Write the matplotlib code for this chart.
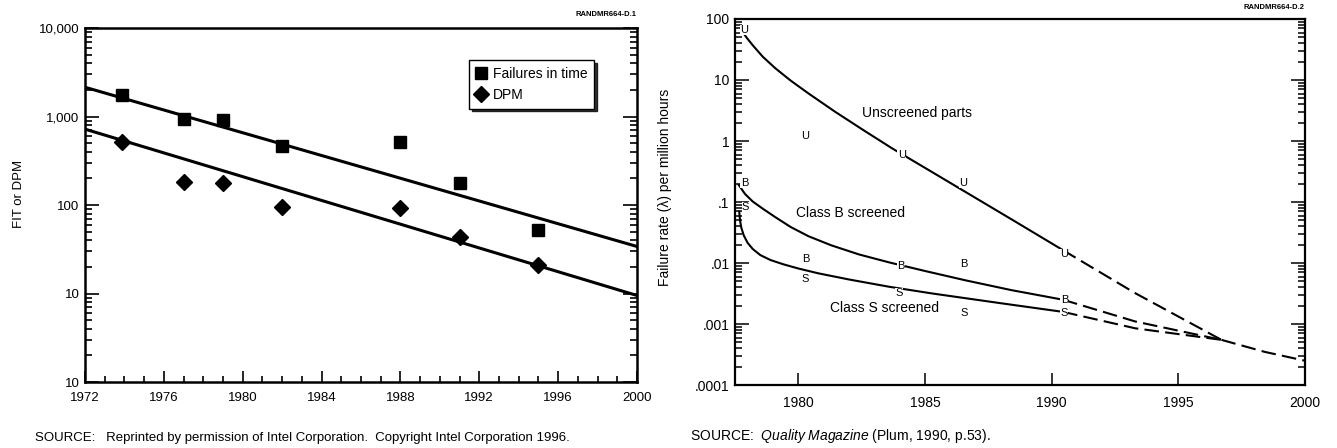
import matplotlib
matplotlib.use('Agg')
import matplotlib.pyplot as plt
from matplotlib.ticker import FixedLocator, MultipleLocator, LogLocator, NullFormatter

plt.rcParams['font.family'] = ['Liberation Sans', 'DejaVu Sans']
plt.rcParams['mathtext.fontset'] = 'custom'
plt.rcParams['mathtext.rm'] = 'Liberation Sans'
plt.rcParams['mathtext.it'] = 'Liberation Sans:italic'

# ---- left panel data (Intel) ----
fit_years = [1973.9, 1977.0, 1979.0, 1982.0, 1988.0, 1991.0, 1995.0]
fit_values = [1770, 940, 920, 470, 520, 177, 52]
dpm_years = [1973.9, 1977.0, 1979.0, 1982.0, 1988.0, 1991.0, 1995.0]
dpm_values = [520, 184, 177, 96, 93, 43, 21]
fit_trend_years = [1972, 2000]
fit_trend_values = [2140, 34]
dpm_trend_years = [1972, 2000]
dpm_trend_values = [720, 9.5]
left_yticks = [1, 10, 100, 1000, 10000]
left_ylabels = ['10', '10', '100', '1,000', '10,000']

# ---- right panel data (Quality Magazine) ----
unscr_years = [1977.8, 1977.95, 1978.2, 1978.6, 1979.1, 1979.7, 1980.4, 1981.45,
               1982.6, 1983.7, 1985.2, 1986.7, 1988.6, 1990.45]
unscr_values = [61.7, 50.1, 37.2, 24.0, 15.5, 9.77, 6.03, 3.02,
                1.48, 0.759, 0.324, 0.138, 0.0468, 0.0162]
unscr_dash_years = [1990.45, 1993.3, 1996.7]
unscr_dash_values = [0.0162, 0.0032, 0.00055]
classb_years = [1977.65, 1977.9, 1978.2, 1978.6, 1979.1, 1979.7, 1980.4, 1981.3,
                1982.4, 1983.6, 1985.0, 1986.6, 1988.4, 1990.45]
classb_values = [0.19, 0.135, 0.102, 0.0776, 0.0562, 0.0389, 0.0275, 0.0195,
                 0.0138, 0.0102, 0.0074, 0.0052, 0.0036, 0.0025]
classb_dash_years = [1990.45, 1993.3, 1996.7]
classb_dash_values = [0.0025, 0.0011, 0.00055]
classs_years = [1977.67, 1977.70, 1977.75, 1977.85, 1978.0, 1978.2, 1978.5, 1978.9,
                1979.4, 1980.0, 1980.8, 1982.0, 1983.6, 1985.3, 1988.0, 1990.45]
classs_values = [0.0692, 0.0501, 0.038, 0.0282, 0.0214, 0.0170, 0.0135, 0.0112,
                 0.00955, 0.00813, 0.00676, 0.00537, 0.00407, 0.00316, 0.00219, 0.00158]
classs_dash_years = [1990.45, 1993.3, 1996.7]
classs_dash_values = [0.00158, 0.00085, 0.00055]
tail_years = [1996.7, 1998.4, 2000.0]
tail_values = [0.00055, 0.00035, 0.00025]

u_years = [1977.87, 1980.28, 1984.08, 1986.52, 1990.48]
u_values = [66, 1.22, 0.59, 0.204, 0.0141]
b_years = [1977.87, 1980.28, 1984.05, 1986.55, 1990.5]
b_values = [0.207, 0.0115, 0.0089, 0.0096, 0.0025]
s_years = [1977.92, 1980.26, 1983.99, 1986.55, 1990.5]
s_values = [0.082, 0.0054, 0.0032, 0.00153, 0.0015]

right_yticks = [1e-4, 1e-3, 1e-2, 1e-1, 1, 10, 100]
right_ylabels = ['.0001', '.001', '.01', '.1', '1', '10', '100']
right_xticks = [1980, 1985, 1990, 1995, 2000]

fig = plt.figure(figsize=(13.37, 4.48), dpi=100)
ax1 = fig.add_axes([0.0636, 0.1473, 0.4128, 0.7902])
ax2 = fig.add_axes([0.5497, 0.1406, 0.4264, 0.8170])

# left panel
ax1.plot(fit_trend_years, fit_trend_values, color='black', lw=2.2)
ax1.plot(dpm_trend_years, dpm_trend_values, color='black', lw=2.2)
ax1.plot(fit_years, fit_values, 's', color='black', ms=8.5, label='Failures in time')
ax1.plot(dpm_years, dpm_values, 'D', color='black', ms=8.5, label='DPM')
ax1.set_yscale('log')
ax1.set_xlim(1972, 2000)
ax1.set_ylim(1, 10000)
ax1.yaxis.set_major_locator(FixedLocator(left_yticks))
ax1.set_yticklabels(left_ylabels)
ax1.yaxis.set_minor_locator(LogLocator(subs=range(2, 10)))
ax1.yaxis.set_minor_formatter(NullFormatter())
ax1.xaxis.set_major_locator(MultipleLocator(4))
ax1.xaxis.set_minor_locator(MultipleLocator(1))
ax1.tick_params(which='both', direction='in', right=True, top=False, width=1.2, labelsize=9.5)
ax1.tick_params(axis='y', which='major', length=10, pad=4)
ax1.tick_params(axis='y', which='minor', length=5)
ax1.tick_params(axis='x', which='major', length=8, pad=7)
ax1.tick_params(axis='x', which='minor', length=4)
for sp in ax1.spines.values():
    sp.set_linewidth(1.8)
ax1.set_ylabel('FIT or DPM', fontsize=9.5)
ax1.yaxis.set_label_coords(-0.108, 0.53)
leg = ax1.legend(loc='upper right', bbox_to_anchor=(0.935, 0.93), fontsize=10,
                 frameon=True, fancybox=False, edgecolor='black', handlelength=0.8,
                 handletextpad=0.4, borderpad=0.5, labelspacing=0.5,
                 shadow={'color': 'black', 'alpha': 0.8})
leg.get_frame().set_linewidth(1.0)

# right panel
solid = dict(color='black', lw=1.5)
dashed = dict(color='black', lw=1.5, linestyle=(0, (7, 3)))
ax2.plot(unscr_years, unscr_values, **solid)
ax2.plot(classb_years, classb_values, **solid)
ax2.plot(classs_years, classs_values, **solid)
ax2.plot(unscr_dash_years, unscr_dash_values, **dashed)
ax2.plot(classb_dash_years, classb_dash_values, **dashed)
ax2.plot(classs_dash_years, classs_dash_values, **dashed)
ax2.plot(tail_years, tail_values, **dashed)
for letter, xs, ys in (('U', u_years, u_values), ('B', b_years, b_values), ('S', s_years, s_values)):
    for x, y in zip(xs, ys):
        ax2.text(x, y, letter, fontsize=8, ha='center', va='center', zorder=5,
                 bbox=dict(fc='white', ec='none', pad=0.2))
ax2.text(1984.67, 2.85, 'Unscreened parts', fontsize=10, ha='center', va='center')
ax2.text(1982.05, 0.067, 'Class B screened', fontsize=10, ha='center', va='center')
ax2.text(1983.39, 0.00185, 'Class S screened', fontsize=10, ha='center', va='center')
ax2.set_yscale('log')
ax2.set_xlim(1977.5, 2000)
ax2.set_ylim(1e-4, 100)
ax2.yaxis.set_major_locator(FixedLocator(right_yticks))
ax2.set_yticklabels(right_ylabels)
ax2.yaxis.set_minor_locator(LogLocator(subs=range(2, 10)))
ax2.yaxis.set_minor_formatter(NullFormatter())
ax2.xaxis.set_major_locator(FixedLocator(right_xticks))
ax2.set_xticklabels([str(t) for t in right_xticks])
ax2.tick_params(which='both', direction='in', right=True, top=False, width=1.1, labelsize=10)
ax2.tick_params(axis='y', which='major', length=10, pad=4)
ax2.tick_params(axis='y', which='minor', length=5)
ax2.tick_params(axis='x', which='major', length=9, pad=8)
for sp in ax2.spines.values():
    sp.set_linewidth(1.6)
ax2.set_ylabel('Failure rate (\u03bb) per million hours', fontsize=10)
ax2.yaxis.set_label_coords(-0.11, 0.54)

# figure annotations
fig.text(0.4764, 0.968, 'RANDMR664-D.1', ha='right', va='center', fontsize=5.5, fontweight='bold')
fig.text(0.976, 0.984, 'RANDMR664-D.2', ha='right', va='center', fontsize=5.5, fontweight='bold')
fig.text(0.026, 0.022, 'SOURCE:   Reprinted by permission of Intel Corporation.  Copyright Intel Corporation 1996.',
         ha='left', va='center', fontsize=9.5)
fig.text(0.516, 0.027, r'SOURCE:  $\it{Quality\ Magazine}$ (Plum, 1990, p.53).',
         ha='left', va='center', fontsize=10)

fig.savefig('out.png', dpi=100)
